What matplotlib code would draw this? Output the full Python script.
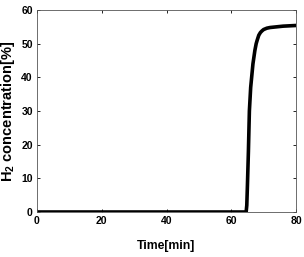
import matplotlib
matplotlib.use("Agg")
import matplotlib.pyplot as plt

time_min = [0, 20, 40, 60, 64.6, 64.8, 65.0, 65.3, 65.6, 66.0, 66.3, 66.7, 67.0, 67.3,
            67.7, 68.0, 68.5, 69.0, 69.5, 70.0, 71.0, 72.0, 74.0, 76.0, 78.0, 80.0]
h2_pct = [0, 0, 0, 0, 0, 2, 8, 18, 30, 37, 40, 44, 46, 48,
          50, 51, 52.5, 53.3, 53.8, 54.2, 54.6, 54.8, 55.0, 55.2, 55.3, 55.4]
x_ticks = [0, 20, 40, 60, 80]
y_ticks = [0, 10, 20, 30, 40, 50, 60]

plt.rcParams['font.family'] = ['Liberation Sans Narrow', 'Liberation Sans', 'DejaVu Sans']
plt.rcParams['mathtext.fontset'] = 'custom'
plt.rcParams['mathtext.rm'] = 'Liberation Sans:bold'
plt.rcParams['mathtext.it'] = 'Liberation Sans:bold'
plt.rcParams['mathtext.bf'] = 'Liberation Sans:bold'

fig = plt.figure(figsize=(3.04, 2.57), dpi=100)
ax = fig.add_axes([37/304, 1 - 212/257, (296-37)/304, (212-10)/257])
ax.plot(time_min, h2_pct, color='black', lw=2.6, solid_capstyle='round')
ax.set_xlim(0, 80)
ax.set_ylim(0, 60)
ax.set_xticks(x_ticks)
ax.set_yticks(y_ticks)
ax.tick_params(direction='in', top=True, right=True, length=2.5, width=0.6,
               labelsize=7.5, pad=3)
for lab in ax.get_xticklabels() + ax.get_yticklabels():
    lab.set_fontweight('bold')
for s in ax.spines.values():
    s.set_linewidth(0.6)
    s.set_color('#555555')
ax.set_xlabel('Time[min]', fontsize=8.8, fontweight='bold')
ax.xaxis.set_label_coords(0.5, -0.14)
ax.set_ylabel(r'H$_2$ concentration[%]', fontsize=10.5, fontweight='bold',
              family=['Liberation Sans', 'DejaVu Sans'])
ax.yaxis.set_label_coords(-0.078, 0.5)
fig.savefig('out.png', dpi=100)
